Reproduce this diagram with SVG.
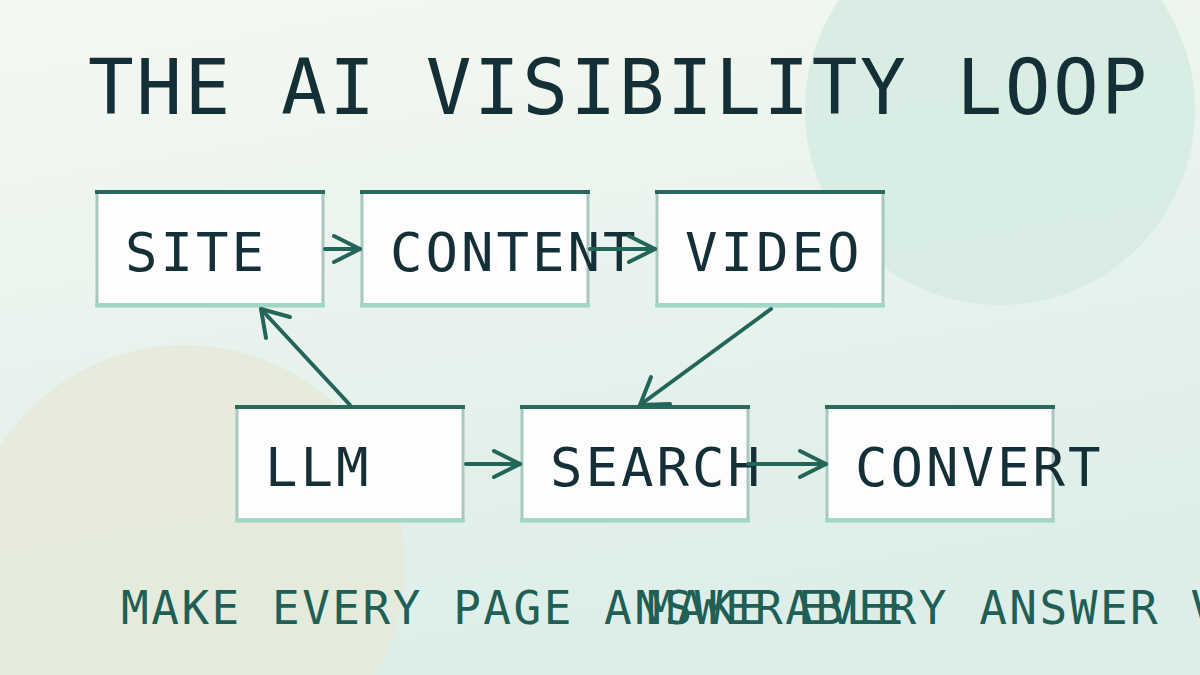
<svg xmlns="http://www.w3.org/2000/svg" width="1200" height="675" viewBox="0 0 1200 675">
<defs>
<linearGradient id="bg" x1="0" y1="0" x2="0.3" y2="1"><stop offset="0" stop-color="#f5f8f2"/><stop offset="1" stop-color="#ddeee8"/></linearGradient>
<marker id="ah" viewBox="0 0 12 12" refX="11" refY="6" markerWidth="12" markerHeight="12" markerUnits="userSpaceOnUse" orient="auto" overflow="visible"><path d="M-8,-9 L11,6 L-8,21" fill="none" stroke="#236559" stroke-width="4" stroke-linecap="round" transform="translate(0,0)"/></marker>
</defs>
<style>
.box{fill:#fcfdfc;stroke:#a9c6c1;stroke-width:3}
.top{stroke:#2a6a5e;stroke-width:4}
.bot{stroke:#9fd8c6;stroke-width:4}
.lbl{font-family:"DejaVu Sans Mono","Liberation Mono",monospace;font-size:54px;fill:#142f36;letter-spacing:3px}
.c{stroke:#236559;stroke-width:4;fill:none;stroke-linecap:round}
.h{stroke:#236559;stroke-width:4;fill:none;stroke-linecap:round;stroke-linejoin:round}
</style>
<rect width="1200" height="675" fill="url(#bg)"/>
<circle cx="1000" cy="110" r="195" fill="#d5ebe2" opacity="0.85"/>
<circle cx="185" cy="565" r="220" fill="#e6eada" opacity="0.9"/>
<text x="88" y="114" font-family="DejaVu Sans Mono,Liberation Mono,monospace" font-size="76" fill="#142f36" letter-spacing="2.5">THE AI VISIBILITY LOOP</text>
<g id="site"><rect class="box" x="97" y="192" width="226" height="114"/><line class="top" x1="95" y1="192" x2="325" y2="192"/><line class="bot" x1="95" y1="305" x2="325" y2="305"/><text class="lbl" x="125" y="271">SITE</text></g>
<g id="content"><rect class="box" x="362" y="192" width="226" height="114"/><line class="top" x1="360" y1="192" x2="590" y2="192"/><line class="bot" x1="360" y1="305" x2="590" y2="305"/><text class="lbl" x="390" y="271">CONTENT</text></g>
<g id="video"><rect class="box" x="657" y="192" width="226" height="114"/><line class="top" x1="655" y1="192" x2="885" y2="192"/><line class="bot" x1="655" y1="305" x2="885" y2="305"/><text class="lbl" x="685" y="271">VIDEO</text></g>
<g id="llm"><rect class="box" x="237" y="407" width="226" height="114"/><line class="top" x1="235" y1="407" x2="465" y2="407"/><line class="bot" x1="235" y1="520" x2="465" y2="520"/><text class="lbl" x="265" y="486">LLM</text></g>
<g id="search"><rect class="box" x="522" y="407" width="226" height="114"/><line class="top" x1="520" y1="407" x2="750" y2="407"/><line class="bot" x1="520" y1="520" x2="750" y2="520"/><text class="lbl" x="550" y="486">SEARCH</text></g>
<g id="convert"><rect class="box" x="827" y="407" width="226" height="114"/><line class="top" x1="825" y1="407" x2="1055" y2="407"/><line class="bot" x1="825" y1="520" x2="1055" y2="520"/><text class="lbl" x="855" y="486">CONVERT</text></g>
<g id="connectors">
<line class="c" x1="325" y1="249" x2="360" y2="249"/><path class="h" d="M334,236 L360,249 L334,262"/>
<line class="c" x1="590" y1="249" x2="655" y2="249"/><path class="h" d="M629,236 L655,249 L629,262"/>
<line class="c" x1="771" y1="309" x2="640" y2="405"/><path class="h" d="M651,377 L640,405 L670,404"/>
<line class="c" x1="350" y1="405" x2="261" y2="309"/><path class="h" d="M266,338 L261,309 L290,317"/>
<line class="c" x1="466" y1="464" x2="520" y2="464"/><path class="h" d="M494,451 L520,464 L494,477"/>
<line class="c" x1="748" y1="464" x2="826" y2="464"/><path class="h" d="M800,451 L826,464 L800,477"/>
</g>
<g font-family="DejaVu Sans Mono,Liberation Mono,monospace" font-size="46" fill="#1f5f55" letter-spacing="2.5">
<text x="121" y="624">MAKE EVERY PAGE ANSWERABLE</text>
<text x="647" y="624">MAKE EVERY ANSWER VISIBLE</text>
</g>
</svg>
